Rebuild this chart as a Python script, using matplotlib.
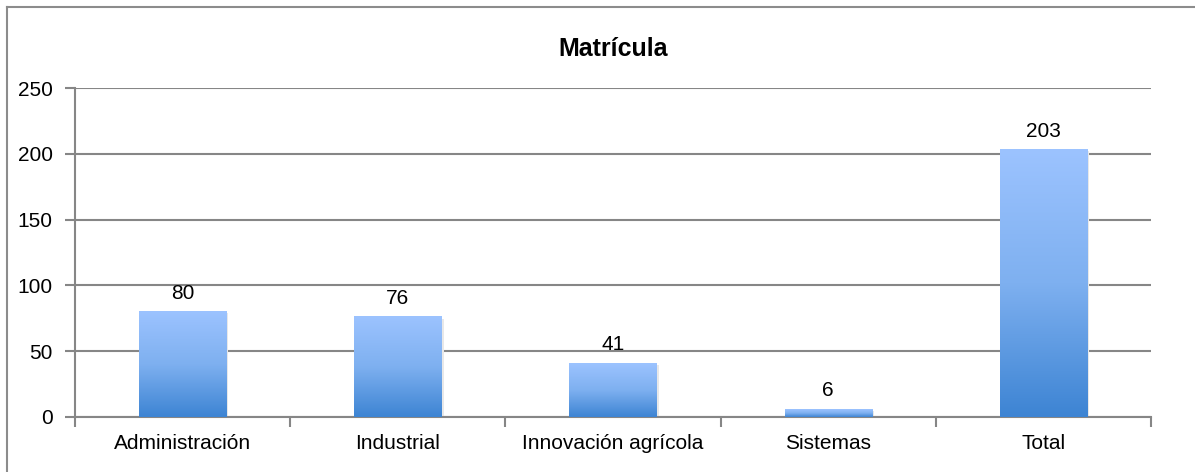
import numpy as np
import matplotlib
matplotlib.use('Agg')
from matplotlib import pyplot as plt
from matplotlib.colors import LinearSegmentedColormap
from matplotlib.lines import Line2D

categories = ['Administración', 'Industrial', 'Innovación agrícola', 'Sistemas', 'Total']
values = [80, 76, 41, 6, 203]
y_ticks = [0, 50, 100, 150, 200, 250]

plt.rcParams['font.family'] = ['Liberation Sans', 'DejaVu Sans']

W, H = 1195, 472
fig = plt.figure(figsize=(W / 100, H / 100), dpi=100)
ax = fig.add_axes([75 / W, 1 - 417 / H, (1151 - 75) / W, (417 - 88) / H])

grid_col = '#868686'
x = np.arange(len(categories))
bars = ax.bar(x, values, width=0.405, color='none', zorder=3)

cmap = LinearSegmentedColormap.from_list('bar', ['#3d84d3', '#7eb0f0', '#9cc3ff'])
grad = np.linspace(0, 1, 256).reshape(-1, 1)
for b in bars:
    x0, y0 = b.get_x(), b.get_y()
    w, h = b.get_width(), b.get_height()
    # soft shadow to the right / below
    ax.add_patch(plt.Rectangle((x0 + 0.01, y0 - 1.2), w, h, color='#e8e8e8', zorder=2, lw=0))
    ax.imshow(grad, extent=(x0, x0 + w, y0, y0 + h), origin='lower', cmap=cmap,
              aspect='auto', zorder=3)
    ax.text(x0 + w / 2, y0 + h + 7, str(int(h)), ha='center', va='bottom', fontsize=15)

ax.set_xlim(-0.5, len(categories) - 0.5)
ax.set_ylim(0, 250)
ax.set_yticks(y_ticks)
ax.set_yticklabels([str(t) for t in y_ticks], fontsize=15)
ax.yaxis.grid(True, color=grid_col, lw=1.5, zorder=1)
ax.set_axisbelow(True)

ax.set_xticks(x)
ax.set_xticklabels(categories, fontsize=15)
ax.tick_params(axis='x', length=0, pad=12)
ax.set_xticks(np.arange(-0.5, len(categories)), minor=True)
ax.tick_params(axis='x', which='minor', length=7, width=1.5, color=grid_col)
ax.tick_params(axis='y', length=7, width=1.5, color=grid_col, pad=9)

for s in ['top', 'right']:
    ax.spines[s].set_visible(False)
for s in ['left', 'bottom']:
    ax.spines[s].set_color(grid_col)
    ax.spines[s].set_linewidth(1.5)

ax.set_title('Matrícula', fontsize=18, fontweight='bold', pad=23)

# chart frame (top and left edges visible)
fig.add_artist(Line2D([7 / W, 7 / W], [0, 1 - 7 / H], transform=fig.transFigure,
                      color='#8c8c8c', lw=1.5))
fig.add_artist(Line2D([7 / W, 1], [1 - 7 / H, 1 - 7 / H], transform=fig.transFigure,
                      color='#8c8c8c', lw=1.5))

fig.savefig('out.png', dpi=100)
